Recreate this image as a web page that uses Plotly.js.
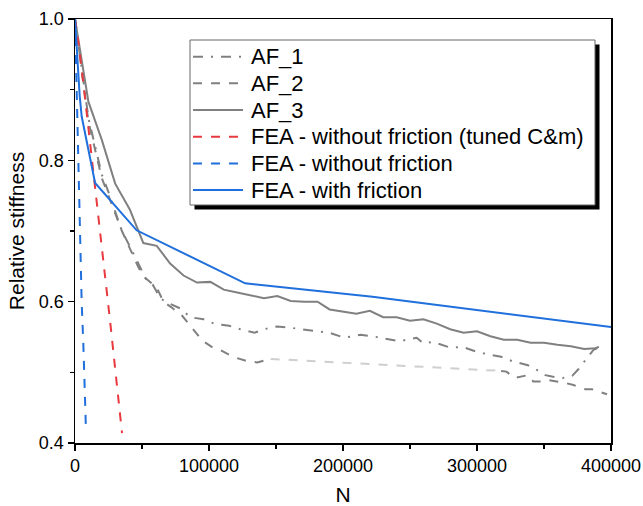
<!DOCTYPE html>
<html>
<head>
<meta charset="utf-8">
<script src="https://cdn.plot.ly/plotly-3.0.1.min.js"></script>
<style>
  html, body { margin: 0; padding: 0; background: #ffffff; }
  #chart { width: 643px; height: 506px; }
</style>
</head>
<body>
<div id="chart"></div>
<script>
// Relative stiffness versus number of cycles N: three tests and three FE models.

// AF_1 test
const af1N = [0, 10000, 15000, 20000, 25000, 30000, 35000, 41000, 47000, 53000, 58000, 64000, 71000, 79000, 86000, 96000, 105000, 115000, 125000, 134000, 141000, 151000, 161000, 175000, 190000, 201000, 213000, 222000, 232000, 242000, 255000, 260000, 267000, 280000, 289000, 300000, 307000, 318000, 326000, 338000, 345000, 351000, 356000, 364000, 371000, 376000, 382000, 387000, 392000];
const af1S = [1.0, 0.86, 0.82, 0.78, 0.755, 0.728, 0.70, 0.678, 0.655, 0.632, 0.624, 0.604, 0.597, 0.590, 0.578, 0.575, 0.568, 0.566, 0.560, 0.556, 0.561, 0.565, 0.563, 0.560, 0.556, 0.549, 0.553, 0.551, 0.547, 0.544, 0.549, 0.541, 0.543, 0.535, 0.536, 0.529, 0.526, 0.522, 0.516, 0.510, 0.503, 0.496, 0.494, 0.492, 0.495, 0.505, 0.520, 0.532, 0.536];

// AF_2 test (no readings between 146000 and 318000)
const af2N = [0, 10000, 15000, 20000, 25000, 30000, 35000, 41000, 47000, 51000, 56000, 61000, 66000, 72000, 80000, 88000, 95000, 102000, 110000, 118000, 128000, 136000, 146000, null, 318000, 322000, 328000, 338000, 342000, 350000, 353000, 366000, 372000, 381000, 386000, 397000];
const af2S = [1.0, 0.855, 0.815, 0.775, 0.750, 0.725, 0.700, 0.675, 0.650, 0.636, 0.628, 0.620, 0.600, 0.592, 0.580, 0.562, 0.545, 0.536, 0.530, 0.522, 0.516, 0.514, 0.519, null, 0.502, 0.501, 0.492, 0.496, 0.487, 0.487, 0.489, 0.485, 0.482, 0.476, 0.476, 0.469];

// AF_3 test
const af3N = [0, 10000, 20000, 30000, 41000, 47000, 51000, 61000, 71000, 81000, 91000, 101000, 111000, 121000, 131000, 141000, 151000, 161000, 171000, 181000, 190000, 200000, 210000, 220000, 230000, 240000, 250000, 260000, 270000, 280000, 290000, 300000, 310000, 320000, 330000, 340000, 350000, 360000, 370000, 380000, 388000, 391000];
const af3S = [1.0, 0.883, 0.829, 0.767, 0.730, 0.701, 0.683, 0.679, 0.654, 0.637, 0.627, 0.628, 0.617, 0.613, 0.609, 0.605, 0.608, 0.601, 0.600, 0.600, 0.589, 0.586, 0.583, 0.587, 0.578, 0.578, 0.573, 0.575, 0.569, 0.561, 0.556, 0.558, 0.551, 0.546, 0.546, 0.542, 0.542, 0.539, 0.537, 0.533, 0.534, 0.536];

// FEA - without friction (tuned C&m)
const feaTunedN = [0, 2500, 7500, 11700, 14900, 18700, 26100, 35100];
const feaTunedS = [1.0, 0.968, 0.888, 0.817, 0.758, 0.701, 0.574, 0.414];

// FEA - without friction
const feaNoFricN = [0, 2000, 3000, 4250, 5000, 6200, 7500, 8200];
const feaNoFricS = [1.0, 0.84, 0.754, 0.631, 0.598, 0.541, 0.478, 0.418];

// FEA - with friction
const feaFricN = [0, 3500, 5000, 15000, 46000, 127000, 222000, 400000];
const feaFricS = [1.0, 0.891, 0.862, 0.768, 0.701, 0.626, 0.607, 0.564];

const seriesNames = ['AF_1', 'AF_2', 'AF_3', 'FEA - without friction (tuned C&m)', 'FEA - without friction', 'FEA - with friction'];

const grey = '#808080';
const red = '#e8393f';
const blue = '#1f6fdc';

const lineStyles = [
  { color: grey, width: 2, dash: '10px,8px,2px,8px' },
  { color: grey, width: 2, dash: 'dash' },
  { color: grey, width: 2, dash: 'solid' },
  { color: red, width: 2, dash: 'dash' },
  { color: blue, width: 2, dash: 'dash' },
  { color: blue, width: 2, dash: 'solid' }
];

// light connector across the AF_2 gap, from its last reading before to its first after
const gapStart = af2N.indexOf(null);
const af2Bridge = {
  x: [af2N[gapStart - 1], af2N[gapStart + 1]],
  y: [af2S[gapStart - 1], af2S[gapStart + 1]],
  mode: 'lines', showlegend: false, hoverinfo: 'skip',
  line: { color: '#cfcfcf', width: 2, dash: 'dash' }
};

const seriesData = [
  [af1N, af1S], [af2N, af2S], [af3N, af3S],
  [feaTunedN, feaTunedS], [feaNoFricN, feaNoFricS], [feaFricN, feaFricS]
];

const traces = [af2Bridge].concat(seriesData.map(function (d, i) {
  return { x: d[0], y: d[1], name: seriesNames[i], mode: 'lines',
           connectgaps: false, showlegend: false, line: lineStyles[i] };
}));

const font = 'Liberation Sans, Arial, Helvetica, sans-serif';

// plot area in pixels, used to place the key box
const W = 643, H = 506;
const M = { l: 75, r: 32, t: 19, b: 63 };
const plotW = W - M.l - M.r, plotH = H - M.t - M.b;
const px = function (x) { return (x - M.l) / plotW; };
const py = function (y) { return (H - M.b - y) / plotH; };

// key box: frame, drop shadow, sample lines and labels
const key = { left: 190, right: 595, top: 40, bottom: 205, shadow: 4.5,
              row0: 56.7, rowStep: 26.67, lineX0: 193, lineX1: 243, textX: 249 };

const shapes = [
  { type: 'rect', xref: 'paper', yref: 'paper', layer: 'above',
    x0: px(key.left + key.shadow), x1: px(key.right + key.shadow),
    y0: py(key.bottom + key.shadow), y1: py(key.top + key.shadow),
    fillcolor: '#000', line: { width: 0 } },
  { type: 'rect', xref: 'paper', yref: 'paper', layer: 'above',
    x0: px(key.left), x1: px(key.right), y0: py(key.bottom), y1: py(key.top),
    fillcolor: '#fff', line: { color: '#666', width: 1 } }
];
const annotations = [];
seriesNames.forEach(function (name, i) {
  const yRow = py(key.row0 + i * key.rowStep);
  shapes.push({ type: 'line', xref: 'paper', yref: 'paper', layer: 'above',
    x0: px(key.lineX0), x1: px(key.lineX1), y0: yRow, y1: yRow,
    line: lineStyles[i] });
  annotations.push({ xref: 'paper', yref: 'paper', x: px(key.textX), y: yRow,
    xanchor: 'left', yanchor: 'middle', showarrow: false, text: name,
    font: { family: font, size: 22, color: '#000' } });
});

const axisCommon = {
  showline: true, linecolor: '#000', linewidth: 1.5, mirror: true,
  ticks: 'outside', ticklen: 6, tickwidth: 1.5, tickcolor: '#000',
  showgrid: false, zeroline: false,
  tickfont: { family: font, size: 18, color: '#000' }
};

const layout = {
  width: W, height: H,
  margin: M,
  paper_bgcolor: '#fff', plot_bgcolor: '#fff',
  font: { family: font, color: '#000' },
  showlegend: false,
  xaxis: Object.assign({}, axisCommon, {
    range: [0, 400000], tick0: 0, dtick: 100000,
    tickformat: 'd', exponentformat: 'none',
    minor: { dtick: 50000, ticks: 'outside', ticklen: 4, tickwidth: 1.5, tickcolor: '#000' },
    title: { text: 'N', font: { family: font, size: 21, color: '#000' }, standoff: 12 }
  }),
  yaxis: Object.assign({}, axisCommon, {
    range: [0.4, 1.0], tick0: 0.4, dtick: 0.2, tickformat: '.1f',
    minor: { dtick: 0.1, ticks: 'outside', ticklen: 4, tickwidth: 1.5, tickcolor: '#000' },
    title: { text: 'Relative stiffness', font: { family: font, size: 21, color: '#000' }, standoff: 8 }
  }),
  shapes: shapes,
  annotations: annotations
};

Plotly.newPlot('chart', traces, layout, { displayModeBar: false, staticPlot: true });
</script>
</body>
</html>
